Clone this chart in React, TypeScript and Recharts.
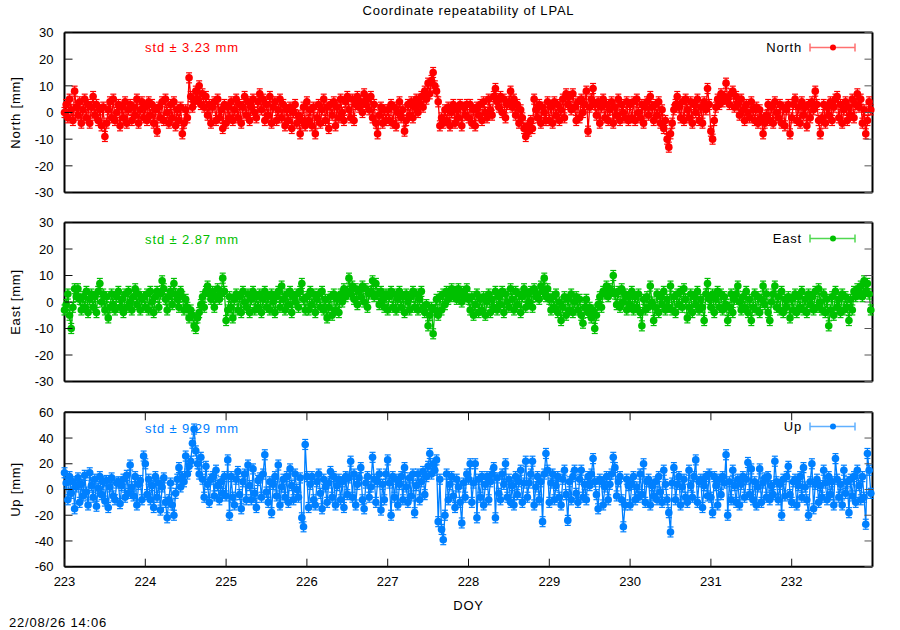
import React from 'react';
import { LineChart, Line, XAxis, YAxis } from 'recharts';

const FONT = "'Liberation Sans', Arial, Helvetica, sans-serif";

// DOY ticks
const xTicks = [223, 224, 225, 226, 227, 228, 229, 230, 231, 232];
const neTicks = [-30, -20, -10, 0, 10, 20, 30];
const upTicks = [-60, -40, -20, 0, 20, 40, 60];
const startDoy = 223;
const perDay = 48; // half-hourly solutions

// North [mm], one row per day (DOY 223 .. 232)
const north = [
  0, 3, -2, 5, 1, -3, 8, 2, -1, 4, -4, 1, 5, -2, 3, -4, 2, 6, -1, 3, -3, 1, -5, 2, -9, -4, 1, 4, -2, 5, -3, 0, 3, -5, 2, -2, 4, -4, 1, 3, -3, 2, -1, 5, -4, 1, 4, -2,
  2, -3, 4, -1, 3, -4, 1, -7, 2, -2, 4, -3, 5, 0, -4, 3, -2, 4, -5, 1, -3, 2, -8, -4, 1, -2, 13, 6, 2, 4, 8, 5, 10, 3, 7, 2, 6, -1, 3, -4, 2, 4, -3, 5, -2, 1, -6, 3,
  -4, 2, -2, 4, -3, 1, 5, -2, 3, -4, 2, 6, -1, 4, -3, 2, 5, 0, -2, 4, 7, 1, 5, -3, 3, -1, 6, -4, 2, 4, -3, 1, 5, -2, 3, -5, 1, -3, 2, -6, 0, 3, -4, -1, -8, -3, 2, -5,
  4, -3, 1, -5, 2, -8, -2, 3, -4, 1, 5, -3, 2, -6, 3, -1, 4, -5, 2, -2, 5, 0, -3, 4, 6, 1, -2, 5, -3, 3, 6, 2, 4, 0, 7, 3, 5, 1, 6, -2, 3, -4, -8, -1, 2, -4, 1, -3,
  1, -3, 3, -4, 2, -5, 0, 4, -2, 1, -7, -3, 3, -1, 4, -2, 2, 5, 0, 3, 6, 2, 8, 5, 11, 7, 12, 15, 10, 8, 4, -5, -2, -4, 1, -3, 2, -5, 0, 3, -4, 1, -2, 3, -5, 2, -1, 3,
  -2, 3, -4, 1, -5, 2, -1, 3, -3, 4, 0, -2, 5, 1, -1, 6, 9, 4, 2, 6, 0, 5, -2, 3, 4, 8, 2, 5, -1, 3, -4, 1, -2, -6, -9, -5, -7, -3, -6, 5, 1, -2, 3, -4, 2, 0, -3, 4,
  -3, 2, -4, 4, -1, 3, -3, 1, 5, -2, 7, 3, 6, 1, 7, 2, -3, 4, -2, 5, 0, 3, 8, -7, 2, 5, 9, 3, -1, 4, -4, 2, 5, -2, 3, -3, 1, 4, -4, 2, -1, 5, -3, 3, 0, -2, 4, -3,
  3, -2, 4, -3, 5, 0, -2, 3, -4, 2, 4, -1, 6, 2, -3, 3, -1, 4, -4, 1, -6, -3, -10, -13, -8, -4, 1, 3, 6, 2, -2, 4, -3, 5, 1, -2, 4, -4, 3, 0, 5, -3, 2, -4, 4, 1, 9, 3,
  -7, -10, -3, 2, 5, 3, 7, 4, 6, 11, 5, 3, 7, 8, 2, 6, 3, -1, 5, 1, -3, 3, 0, -2, 4, 1, -3, 2, -4, 1, -2, -8, -4, -1, 3, -3, 2, -4, 4, 0, -2, 3, -4, 2, -5, 1, 3, -8,
  -2, 3, 5, -3, 2, -4, 4, -1, 2, -5, 3, -2, 4, 1, 8, 3, -3, -8, -2, 3, -4, 2, -1, 4, -3, 2, 5, 6, -2, 3, -4, 1, 4, -3, 2, -1, 5, -2, 3, 7, 2, 5, -4, 1, -8, -3, 4, 1,
];

// East [mm]
const east = [
  -3, -1, 3, -5, -10, -2, 5, 2, 5, 1, -3, 2, -2, 4, -4, 1, 3, -2, 2, -4, 4, 7, 0, 3, -3, 2, -6, -2, 3, -1, -3, 2, 4, -2, 1, -4, 3, -2, 4, 0, -3, 2, 5, -1, 3, -3, 1, 2,
  -2, 3, -3, 4, 0, -4, 2, 4, -2, 3, 8, 5, 1, -3, 2, 4, -1, 7, 3, 1, -2, 4, 2, -3, 1, -2, -6, -3, -5, -9, -10, -6, -4, -1, 2, -2, 4, 6, 3, 1, 4, -2, 2, 5, 1, 3, 9, 4,
  -7, -3, 2, -2, -6, 1, 3, -3, 2, -4, 4, 0, -2, 3, -4, 1, 4, -3, 2, -2, 3, -4, 1, 4, -2, 2, -3, 3, 0, -4, 2, 4, -2, 6, 1, -3, 3, -1, 4, -4, 2, 0, 3, -2, 4, 7, 1, -3,
  2, -3, 4, -1, 3, -4, 1, 3, -2, 4, -3, 1, -6, -2, 2, -5, 3, -3, 1, -4, 3, 0, 5, 2, 4, 9, 3, 6, 1, 5, -1, 4, 2, 6, 0, 5, -2, 3, 4, 8, 2, 7, 3, -1, 4, 1, -2, 3,
  -3, 2, 4, -2, 3, -3, 1, 4, -2, 2, -4, 3, 0, -3, 2, 4, -2, 3, -3, 1, 4, -2, -4, -1, -9, -5, -2, -12, -3, 1, -5, 2, -3, 3, -1, 4, 1, 3, 5, 2, 4, 1, 5, 3, 0, 4, 2, 5,
  1, -3, 2, -5, -1, 3, -4, 1, -3, 2, -5, 0, 3, -4, 1, -2, 4, -3, 2, -1, 4, -4, 3, 0, -2, 5, 1, -3, 4, -1, 3, -4, 2, 5, -2, 3, 0, 4, -2, 5, 2, 3, 1, 6, 4, 9, 2, 5,
  1, -3, 2, -2, 3, -4, 0, -7, -2, 2, -5, 1, -3, 3, -4, 0, 2, -3, 1, -5, -8, -2, 1, -4, -2, -6, -3, -10, -5, -1, 2, -2, 4, 3, 6, 2, 5, 4, 10, 3, -1, 4, -2, 5, 0, 3, -3, 2,
  -1, 4, -3, 2, -2, 3, -4, -9, 1, -3, 2, -2, 6, 0, -7, -2, 3, -4, 2, -1, 4, -3, 1, -2, 6, -3, 2, -4, 3, -1, 4, -2, 5, 1, -6, -2, 3, -4, 2, -1, 4, -3, 1, -2, -7, 3, 7, 1,
  -2, 3, -4, 1, 4, -2, 3, -3, 2, -1, -7, -2, 3, -4, 1, 3, 6, 0, -3, 2, -2, 4, -4, 1, -7, -2, 3, -3, 2, -4, 1, 6, -1, 3, -4, -7, 0, 3, 6, -2, 2, -3, 4, -4, 1, -2, 2, -6,
  1, -3, 3, -4, 2, -2, 4, -3, 1, -4, 3, -1, 2, -3, 4, -2, 5, 0, -3, 3, -4, 1, -9, -3, 2, -5, 4, -2, 1, -4, 3, -3, 2, -2, -7, 1, -3, 4, 2, 5, 3, 6, 2, 8, 4, 7, 3, -3,
];

// Up [mm]
const up = [
  13, 5, -8, 10, -3, 6, -15, 2, 9, -10, 4, -5, 11, -2, -12, 13, 3, -6, 8, -13, 1, 10, -4, 6, -9, 7, -14, 2, 9, -5, -8, 5, 6, -11, 3, 8, -6, 11, -3, 19, 2, -5, 10, -12, 4, 7, -8, 26,
  20, -4, 8, -8, 3, -14, 10, -6, 5, -16, 2, 9, -10, -22, -8, 5, -12, -20, -3, 8, 17, 2, 10, 6, 26, 12, 18, 22, 36, 47, 30, 20, 12, 25, 8, -6, 18, 4, -10, 8, 10, -5, 15, 3, -8, 6, -3, 10,
  -5, 23, -20, 10, -6, -12, 8, 14, -4, -15, 6, 12, -8, 19, 3, -8, 16, -3, -14, 7, 9, -6, 12, 27, -2, -10, 6, -18, 4, 10, -5, 19, -12, 2, 8, -6, 10, -10, 16, 3, -8, 12, 0, -6, 9, -22, -29, 35,
  10, -14, 4, 10, -8, -12, 6, 12, -3, -15, 8, 2, -10, 5, 14, -6, 10, -12, 3, 8, -8, 6, -14, 10, -4, 9, 22, -6, 12, -12, 4, 9, 17, -8, -15, 5, 10, -6, 2, 25, 8, -10, 6, 12, -16, 4, -8, 12,
  23, 5, -20, 10, -6, 8, -12, 4, 10, -8, 17, 2, -10, 9, -5, 12, -18, 3, 12, -8, 6, 14, -4, 10, 18, 28, 12, 20, 15, 23, -25, 8, -31, -39, -20, 12, -8, 4, 10, -5, -14, 8, 2, -10, -26, 5, -6, 12,
  8, 20, -10, 5, 20, -22, 8, -6, 10, -12, 4, 10, -8, 6, 12, 17, -22, 9, -3, -8, 12, 4, 20, -6, 8, -10, 3, -12, 10, -4, 6, 15, -10, 5, 22, -6, 5, 12, 22, -12, 2, 10, -8, 6, -25, 12, 28, 15,
  -10, 5, 12, -8, 3, 10, -6, -12, 8, 15, -4, -24, 6, -8, 10, 15, -3, -10, 8, 15, -6, 4, -8, 10, 3, 12, 24, 6, -4, -15, 8, 6, -12, 2, 10, -8, 4, 12, 25, 17, -5, 6, 10, -8, -29, -12, 8, 3,
  -12, 4, 10, -8, 2, -6, 12, -4, 20, -10, 6, 8, -12, 3, -5, 6, -8, 10, -2, -10, 15, 4, -8, -18, -33, 5, 17, -8, 4, 10, -12, 2, 8, -6, -10, 15, 3, -6, 10, 23, -10, 6, 8, -14, 3, 10, -5, 12,
  -6, -18, 10, 3, -12, 8, -4, 10, 5, 27, -20, 6, -8, 15, 3, -10, 8, -12, 4, 10, -6, 8, 21, -4, 16, -8, 6, -12, 2, 16, -10, 5, 9, -6, 10, -8, 3, -4, 22, 6, -8, 4, -20, 8, -5, 10, 18, -4,
  -10, 6, 8, -12, 3, 10, -6, 17, 2, -8, -20, 6, 20, -15, 4, 8, -10, 3, -6, 15, 5, -8, 10, -4, 6, -12, 24, 8, -6, 4, -12, 15, -3, 6, -18, 8, -5, 10, -10, 15, 3, -8, 10, -6, -27, 28, 15, -3,
];

const toRows = (vals: number[]) =>
  vals.map((v, i) => ({ doy: startDoy + i / perDay, v }));

const makeDot = (color: string) => (p: any) => {
  const { cx, cy, index } = p;
  if (cx == null || cy == null || isNaN(cx) || isNaN(cy)) return <g key={`e${index}`} />;
  return (
    <g key={`d${index}`}>
      <line x1={cx} x2={cx} y1={cy - 5} y2={cy + 5} stroke={color} strokeWidth={1.2} />
      <line x1={cx - 3} x2={cx + 3} y1={cy - 5} y2={cy - 5} stroke={color} strokeWidth={1.2} />
      <line x1={cx - 3} x2={cx + 3} y1={cy + 5} y2={cy + 5} stroke={color} strokeWidth={1.2} />
      <circle cx={cx} cy={cy} r={3.8} fill={color} />
    </g>
  );
};

// custom ticks (inward tick marks, gnuplot style)
const LeftTick = (p: any) => (
  <g>
    <line x1={p.x + 11} x2={p.x + 19} y1={p.y} y2={p.y} stroke="#111" strokeWidth={1} />
    <text x={p.x} y={p.y} dy="0.36em" textAnchor="end" fontSize={13} fill="#000" fontFamily={FONT}>
      {p.payload.value}
    </text>
  </g>
);
const RightTick = (p: any) => (
  <line x1={p.x - 8} x2={p.x} y1={p.y} y2={p.y} stroke="#555" strokeWidth={1} />
);
const BottomTick = (p: any) => (
  <g>
    <line x1={p.x} x2={p.x} y1={p.y - 10} y2={p.y - 18} stroke="#111" strokeWidth={1} />
    <text x={p.x} y={p.y} dy="0.75em" textAnchor="middle" fontSize={13} fill="#000" fontFamily={FONT}>
      {p.payload.value}
    </text>
  </g>
);
const TopTick = (p: any) => (
  <line x1={p.x} x2={p.x} y1={p.y} y2={p.y + 8} stroke="#111" strokeWidth={1} />
);

const panels = [
  {
    name: 'North', label: 'North [mm]', std: 'std ± 3.23 mm', color: '#ff0000', light: '#ff7070',
    rows: toRows(north), domain: [-30, 30], ticks: neTicks,
    top: 0, height: 210, mTop: 32.5, mBottom: 17.5, showX: false,
    legendY: 47.5, stdY: 47, labelY: 112.5,
  },
  {
    name: 'East', label: 'East [mm]', std: 'std ± 2.87 mm', color: '#00c000', light: '#50d850',
    rows: toRows(east), domain: [-30, 30], ticks: neTicks,
    top: 200, height: 200, mTop: 22.5, mBottom: 18.5, showX: false,
    legendY: 238.5, stdY: 239, labelY: 302,
  },
  {
    name: 'Up', label: 'Up [mm]', std: 'std ± 9.29 mm', color: '#0080ff', light: '#60b0ff',
    rows: toRows(up), domain: [-60, 60], ticks: upTicks,
    top: 400, height: 230, mTop: 12.3, mBottom: 63.3, showX: true,
    legendY: 426.5, stdY: 428, labelY: 489.5,
  },
];

function Panel({ cfg }: { cfg: any }) {
  const bottomH = cfg.showX ? 30 : 1;
  return (
    <div style={{ position: 'absolute', left: 0, top: cfg.top }}>
      <LineChart
        width={900}
        height={cfg.height}
        data={cfg.rows}
        margin={{ top: cfg.mTop - 1, bottom: cfg.mBottom - bottomH, left: 24.5, right: 26.5 }}
      >
        <XAxis
          xAxisId="b"
          dataKey="doy"
          type="number"
          domain={[223, 233]}
          ticks={xTicks}
          interval={0}
          height={bottomH}
          tick={cfg.showX ? (p: any) => <BottomTick {...p} /> : false}
          tickLine={false}
          tickSize={0}
          tickMargin={10}
          axisLine={{ stroke: '#000', strokeWidth: 2 }}
        />
        <XAxis
          xAxisId="t"
          orientation="top"
          dataKey="doy"
          type="number"
          domain={[223, 233]}
          ticks={xTicks}
          interval={0}
          height={1}
          tick={cfg.showX ? (p: any) => <TopTick {...p} /> : false}
          tickLine={false}
          tickSize={0}
          tickMargin={0}
          axisLine={{ stroke: '#000', strokeWidth: 2 }}
        />
        <YAxis
          yAxisId="l"
          type="number"
          domain={cfg.domain}
          ticks={cfg.ticks}
          interval={0}
          width={40}
          tick={(p: any) => <LeftTick {...p} />}
          tickLine={false}
          tickSize={0}
          tickMargin={11}
          axisLine={{ stroke: '#000', strokeWidth: 2 }}
        />
        <YAxis
          yAxisId="r"
          orientation="right"
          type="number"
          domain={cfg.domain}
          ticks={cfg.ticks}
          interval={0}
          width={1}
          tick={(p: any) => <RightTick {...p} />}
          tickLine={false}
          tickSize={0}
          tickMargin={0}
          axisLine={{ stroke: '#000', strokeWidth: 2 }}
        />
        <Line
          xAxisId="t"
          yAxisId="r"
          dataKey="v"
          stroke="none"
          dot={false}
          activeDot={false}
          isAnimationActive={false}
        />
        <Line
          xAxisId="b"
          yAxisId="l"
          dataKey="v"
          type="linear"
          stroke={cfg.color}
          strokeWidth={1.3}
          dot={makeDot(cfg.color)}
          activeDot={false}
          isAnimationActive={false}
        />
      </LineChart>
    </div>
  );
}

export default function App() {
  return (
    <div
      style={{
        position: 'absolute',
        left: 0,
        top: 0,
        width: 900,
        height: 630,
        background: '#fff',
        fontFamily: FONT,
      }}
    >
      {panels.map((p) => (
        <Panel key={p.name} cfg={p} />
      ))}
      <svg
        width={900}
        height={630}
        style={{ position: 'absolute', left: 0, top: 0, pointerEvents: 'none' }}
        fontFamily={FONT}
      >
        <text x={468.5} y={10} textAnchor="middle" dominantBaseline="central" fontSize={13} letterSpacing={0.8} fill="#000">
          Coordinate repeatability of LPAL
        </text>
        {panels.map((p) => (
          <g key={`ov${p.name}`}>
            <text x={145} y={p.stdY} dominantBaseline="central" fontSize={13} letterSpacing={0.9} fill={p.color}>
              {p.std}
            </text>
            <text x={802} y={p.legendY} textAnchor="end" dominantBaseline="central" fontSize={13} letterSpacing={0.8} fill="#000">
              {p.name}
            </text>
            <line x1={810} x2={855} y1={p.legendY} y2={p.legendY} stroke={p.light} strokeWidth={1.5} />
            <line x1={810} x2={810} y1={p.legendY - 4} y2={p.legendY + 4} stroke={p.light} strokeWidth={1.5} />
            <line x1={855} x2={855} y1={p.legendY - 4} y2={p.legendY + 4} stroke={p.light} strokeWidth={1.5} />
            <circle cx={833} cy={p.legendY} r={3} fill={p.color} />
            <text
              x={15}
              y={p.labelY}
              textAnchor="middle"
              dominantBaseline="central"
              fontSize={13}
              letterSpacing={0.8}
              fill="#000"
              transform={`rotate(-90 15 ${p.labelY})`}
            >
              {p.label}
            </text>
          </g>
        ))}
        <text x={468.5} y={605} textAnchor="middle" dominantBaseline="central" fontSize={13} letterSpacing={0.8} fill="#000">
          DOY
        </text>
        <text x={9} y={622} dominantBaseline="central" fontSize={13} letterSpacing={0.8} fill="#000">
          22/08/26 14:06
        </text>
      </svg>
    </div>
  );
}
